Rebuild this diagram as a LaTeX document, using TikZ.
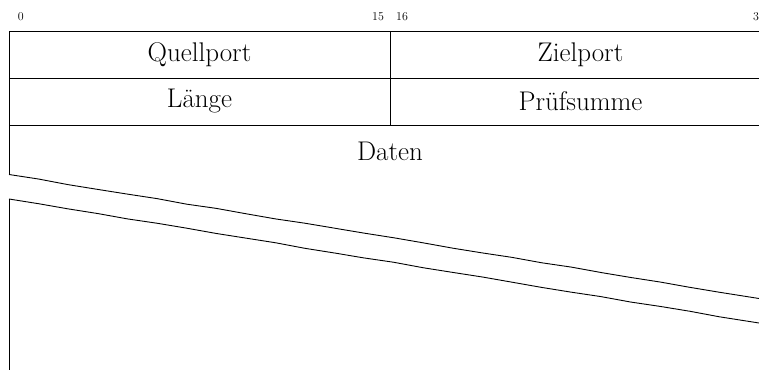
\documentclass[tikz,border=0pt]{standalone}
\usetikzlibrary{decorations.pathmorphing}
\tikzset{
  field/.style={inner sep=0pt, font=\fontsize{27}{31}\selectfont},
  bitnum/.style={inner sep=0pt, font=\fontsize{12}{14}\selectfont},
  frame/.style={line width=0.9pt, black},
  cut/.style={line width=0.9pt, black, decorate, decoration={random steps, segment length=30pt, amplitude=0.4pt}}
}
\begin{document}
\begin{tikzpicture}[x=1pt,y=-1pt]
\useasboundingbox (0,0) rectangle (759,370);
% bit numbers
\node[bitnum] (b0) at (20.9,17) {0};
\node[bitnum] (b15) at (378,17) {15};
\node[bitnum] (b16) at (402,17) {16};
\node[bitnum] (b31) at (759,17) {31};
% frame lines
\draw[frame] (9,31) -- (759,31);
\draw[frame] (9,78) -- (759,78);
\draw[frame] (9,125.5) -- (759,125.5);
\draw[frame] (390,31) -- (390,125.5);
\draw[frame] (9,31) -- (9,174.5);
\draw[frame] (9,199) -- (9,370);
% cut lines
\draw[cut] (9,174.5) -- (759,298.5);
\draw[cut] (9,199) -- (759,323);
% fields
\node[field] (quell) at (199.5,54.5) {Quellport};
\node[field] (ziel) at (580.5,54.5) {Zielport};
\node[field] (laenge) at (199.5,101.5) {L\"ange};
\node[field] (pruef) at (580.5,101.5) {Pr\"ufsumme};
\node[field] (daten) at (390,151) {Daten};
\end{tikzpicture}
\end{document}
